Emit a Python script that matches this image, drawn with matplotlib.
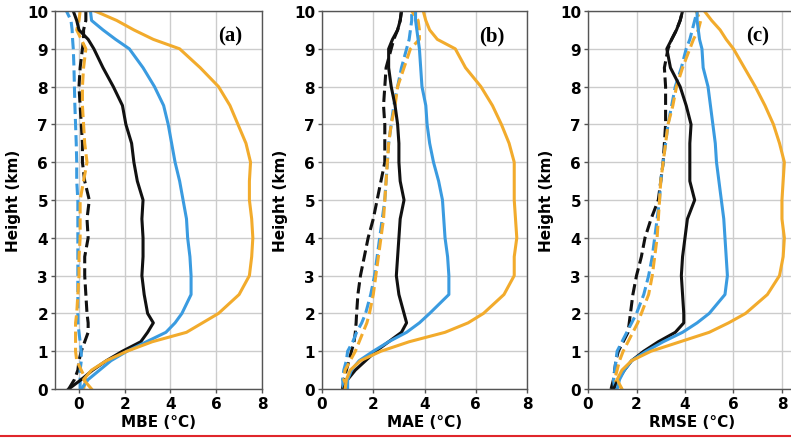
import numpy as np
import matplotlib
matplotlib.use('Agg')
import matplotlib.pyplot as plt
from matplotlib.lines import Line2D

# Heights (km)
H = [0, 0.25, 0.5, 0.75, 1, 1.25, 1.5, 1.75, 2, 2.5, 3, 3.5, 4, 4.5, 5, 5.5,
     6, 6.5, 7, 7.5, 8, 8.5, 9, 9.25, 9.5, 9.75, 10]

# (a) MBE
mbe_orange = [0.55, 0.2, 0.55, 1.2, 2.1, 3.2, 4.7, 5.4, 6.1, 7.0, 7.45, 7.55, 7.6, 7.55, 7.45, 7.45,
              7.5, 7.3, 6.95, 6.6, 6.1, 5.3, 4.4, 3.25, 2.4, 1.65, 0.7]
mbe_blue = [0.1, 0.4, 0.9, 1.4, 2.1, 2.95, 3.8, 4.2, 4.5, 4.9, 4.9, 4.85, 4.75, 4.7, 4.55, 4.4,
            4.2, 4.05, 3.9, 3.7, 3.3, 2.8, 2.2, 1.6, 1.05, 0.55, 0.5]
mbe_black = [-0.45, 0.1, 0.6, 1.2, 1.9, 2.7, 3.0, 3.25, 3.0, 2.85, 2.75, 2.8, 2.8, 2.75, 2.8, 2.55,
             2.4, 2.3, 2.05, 1.9, 1.5, 1.05, 0.65, 0.4, 0.0, -0.1, -0.25]
mbe_black_d = [-0.45, -0.2, -0.05, 0.0, 0.1, 0.25, 0.4, 0.4, 0.35, 0.3, 0.25, 0.25, 0.4, 0.35, 0.45, 0.25,
               0.15, 0.15, 0.1, 0.05, 0.0, 0.05, 0.15, 0.2, 0.2, 0.3, 0.3]
mbe_blue_d = [0.05, 0.05, 0.05, 0.1, 0.1, 0.05, 0.0, -0.05, -0.05, -0.05, -0.05, -0.05, -0.05, -0.05, -0.05, -0.1,
              -0.1, -0.12, -0.15, -0.18, -0.2, -0.22, -0.25, -0.28, -0.3, -0.35, -0.55]
mbe_orange_d = [0.2, 0.3, 0.1, -0.1, -0.15, -0.15, -0.15, -0.15, -0.1, -0.05, 0.0, 0.0, 0.05, 0.05, 0.05, 0.2,
                0.35, 0.25, 0.2, 0.15, 0.15, 0.2, 0.3, 0.1, -0.1, 0.0, 0.05]

# (b) MAE
mae_orange = [0.9, 0.95, 1.1, 1.5, 2.3, 3.4, 4.8, 5.7, 6.3, 7.1, 7.5, 7.5, 7.6, 7.55, 7.5, 7.5,
              7.5, 7.3, 7.0, 6.65, 6.2, 5.6, 5.2, 4.5, 4.2, 4.05, 3.95]
mae_blue = [1.0, 1.0, 1.15, 1.45, 2.0, 2.6, 3.3, 3.8, 4.2, 4.95, 4.95, 4.9, 4.8, 4.75, 4.7, 4.55,
            4.35, 4.2, 4.1, 4.05, 3.9, 3.85, 3.8, 3.75, 3.7, 3.65, 3.65]
mae_black = [0.85, 1.0, 1.3, 1.7, 2.1, 2.6, 3.1, 3.3, 3.2, 3.0, 2.9, 2.95, 3.0, 3.05, 3.2, 3.05,
             3.0, 3.0, 2.95, 2.85, 2.7, 2.6, 2.6, 2.75, 2.95, 3.05, 3.1]
mae_black_d = [0.8, 0.85, 0.95, 1.05, 1.15, 1.25, 1.3, 1.33, 1.35, 1.4, 1.5, 1.65, 1.8, 2.0, 2.15, 2.3,
               2.45, 2.45, 2.45, 2.4, 2.45, 2.5, 2.7, 2.8, 2.95, 3.05, 3.1]
mae_blue_d = [0.85, 0.8, 0.85, 0.95, 1.0, 1.2, 1.35, 1.55, 1.7, 1.9, 2.05, 2.15, 2.25, 2.35, 2.45, 2.5,
              2.55, 2.6, 2.7, 2.8, 2.95, 3.1, 3.3, 3.4, 3.45, 3.5, 3.5]
mae_orange_d = [1.0, 0.85, 0.9, 1.1, 1.3, 1.45, 1.6, 1.75, 1.85, 2.0, 2.1, 2.2, 2.3, 2.4, 2.45, 2.5,
                2.55, 2.6, 2.7, 2.85, 2.95, 3.2, 3.45, 3.8, 3.8, 3.75, 3.5]

# (c) RMSE
rmse_orange = [1.4, 1.2, 1.4, 1.8, 2.6, 3.8, 5.0, 5.8, 6.5, 7.4, 7.9, 8.05, 8.1, 8.0, 8.0, 8.05,
               8.1, 7.9, 7.65, 7.3, 6.9, 6.45, 6.0, 5.7, 5.45, 5.1, 4.8]
rmse_blue = [1.2, 1.3, 1.5, 1.8, 2.4, 3.1, 3.9, 4.5, 5.0, 5.65, 5.75, 5.7, 5.65, 5.6, 5.5, 5.4,
             5.3, 5.25, 5.15, 5.05, 4.95, 4.75, 4.7, 4.6, 4.55, 4.5, 4.5]
rmse_black = [1.05, 1.25, 1.5, 1.8, 2.3, 2.9, 3.6, 3.95, 3.95, 3.9, 3.85, 3.9, 4.0, 4.1, 4.4, 4.2,
              4.2, 4.2, 4.25, 4.05, 3.8, 3.4, 3.25, 3.45, 3.65, 3.8, 3.9]
rmse_black_d = [0.95, 1.05, 1.1, 1.15, 1.25, 1.45, 1.65, 1.7, 1.75, 1.85, 2.0, 2.2, 2.35, 2.6, 2.9, 3.0,
                3.1, 3.15, 3.2, 3.2, 3.2, 3.15, 3.3, 3.45, 3.65, 3.8, 3.9]
rmse_blue_d = [1.1, 1.05, 1.1, 1.15, 1.2, 1.4, 1.6, 1.8, 2.0, 2.3, 2.5, 2.65, 2.75, 2.85, 2.95, 3.0,
               3.1, 3.2, 3.3, 3.45, 3.6, 3.85, 4.05, 4.2, 4.3, 4.4, 4.5]
rmse_orange_d = [1.4, 1.1, 1.2, 1.3, 1.45, 1.65, 1.85, 2.05, 2.2, 2.5, 2.65, 2.75, 2.85, 2.9, 2.95, 3.0,
                 3.1, 3.2, 3.3, 3.5, 3.65, 3.9, 4.2, 4.35, 4.55, 4.65, 4.45]

BLACK = '#111111'
BLUE = '#3a9be0'
ORANGE = '#f2ab2c'

plt.rcParams['font.family'] = 'DejaVu Sans'
plt.rcParams['font.weight'] = 'bold'

fig = plt.figure(figsize=(7.91, 4.39), dpi=100)

panels = [
    ([0.0695, 0.1116, 0.2617, 0.861], (-1.05, 8), 'MBE (°C)', '(a)', 0.845,
     [mbe_black_d, mbe_blue_d, mbe_orange_d, mbe_black, mbe_blue, mbe_orange]),
    ([0.4071, 0.1116, 0.2592, 0.861], (0, 8), 'MAE (°C)', '(b)', 0.83,
     [mae_black_d, mae_blue_d, mae_orange_d, mae_black, mae_blue, mae_orange]),
    ([0.7434, 0.1116, 0.262, 0.861], (0, 8.55), 'RMSE (°C)', '(c)', 0.82,
     [rmse_black_d, rmse_blue_d, rmse_orange_d, rmse_black, rmse_blue, rmse_orange]),
]

styles = [(BLACK, '--'), (BLUE, '--'), (ORANGE, '--'), (BLACK, '-'), (BLUE, '-'), (ORANGE, '-')]

for rect, xlim, xlabel, tag, tx, series in panels:
    ax = fig.add_axes(rect)
    for vals, (col, ls) in zip(series, styles):
        ax.plot(vals, H, color=col, ls=ls, lw=2.2)
    ax.set_xlim(*xlim)
    ax.set_ylim(0, 10)
    ax.set_xticks([0, 2, 4, 6, 8])
    ax.set_yticks(range(11))
    ax.grid(True, color='#cccccc', lw=1)
    ax.set_axisbelow(True)
    for s in ax.spines.values():
        s.set_color('#555555')
        s.set_linewidth(1)
    ax.tick_params(labelsize=11, length=3, width=1, color='#555555', pad=2)
    for lab in ax.get_xticklabels() + ax.get_yticklabels():
        lab.set_fontweight('bold')
    ax.set_xlabel(xlabel, fontsize=11, fontweight='bold', labelpad=2)
    ax.set_ylabel('Height (km)', fontsize=11, fontweight='bold', labelpad=4)
    ax.text(tx, 0.935, tag, transform=ax.transAxes, ha='center', va='center',
            fontsize=15, fontweight='bold', family='Liberation Serif')

fig.add_artist(Line2D([0, 1], [0.005, 0.005], color='#e0262b', lw=1.5))

fig.savefig('out.png', dpi=100)
